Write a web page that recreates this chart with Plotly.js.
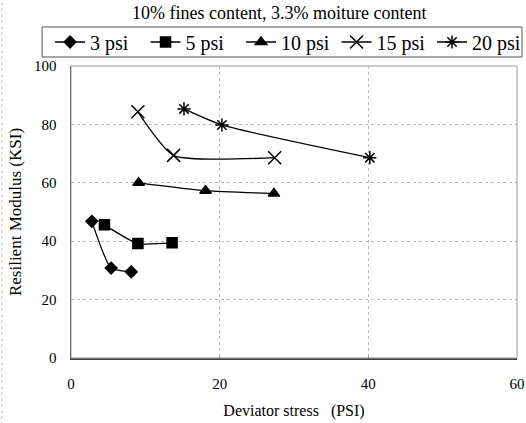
<!DOCTYPE html>
<html><head><meta charset="utf-8">
<script src="https://cdn.plot.ly/plotly-3.0.1.min.js"></script>
<style>body{margin:0;padding:0;background:#fff}#chart{width:526px;height:423px}</style>
</head><body><div id="chart"></div>
<script>
const seriesNames = ['3 psi', '5 psi', '10 psi', '15 psi', '20 psi'];
const x3 = [2.8, 5.4, 8.1];
const y3 = [46.8, 30.8, 29.5];
const x5 = [4.5, 9.0, 13.6];
const y5 = [45.6, 39.2, 39.5];
const x10 = [9.1, 18.1, 27.3];
const y10 = [60.0, 57.3, 56.3];
const x15 = [9.0, 13.8, 27.4];
const y15 = [84.3, 69.4, 68.6];
const x20 = [15.2, 20.3, 40.2];
const y20 = [85.3, 79.8, 68.6];
const xTicks = [0, 20, 40, 60];
const yTicks = [0, 20, 40, 60, 80, 100];

const xs = [x3, x5, x10, x15, x20];
const ys = [y3, y5, y10, y15, y20];
const symbols = ['diamond', 'square', 'triangle-up', 'x-thin-open', 'asterisk-open'];
const sizes = [9, 10, 10, 13, 11];

const traces = seriesNames.map((n, i) => ({
  x: xs[i], y: ys[i], name: n, type: 'scatter', mode: 'lines+markers',
  line: {color: '#000', width: 1.3, shape: 'spline', smoothing: 0.55},
  marker: {symbol: symbols[i], size: sizes[i], color: '#000', line: {color: '#000', width: 1.5}}
}));

const font = {family: 'Times New Roman, Liberation Serif, DejaVu Serif, serif', color: '#000'};
const layout = {
  width: 526, height: 423,
  margin: {l: 71, r: 9, t: 66, b: 65, autoexpand: false},
  paper_bgcolor: '#fff', plot_bgcolor: '#fff',
  font: Object.assign({size: 15}, font),
  title: {text: '10% fines content, 3.3% moiture content', x: 0.531, xanchor: 'center', y: 0.969, yanchor: 'middle',
          font: Object.assign({size: 18}, font)},
  showlegend: true,
  legend: {orientation: 'h', x: -0.047, xanchor: 'left', y: 1.0822, yanchor: 'middle',
           borderwidth: 0, bgcolor: 'rgba(0,0,0,0)',
           font: Object.assign({size: 20}, font), itemwidth: 30, tracegroupgap: 0,
           entrywidth: 50.5, entrywidthmode: 'pixels'},
  xaxis: {range: [0, 60], tickvals: xTicks, ticktext: xTicks.map(String), showgrid: true,
          gridcolor: '#bbb', griddash: 'dot', gridwidth: 1, zeroline: false,
          showline: true, linecolor: '#444', linewidth: 1.5, ticks: 'inside', ticklen: 3, tickcolor: '#999',
          ticklabelstandoff: 11,
          title: {text: 'Deviator stress \u00a0 (PSI)', font: Object.assign({size: 16}, font), standoff: 14}},
  yaxis: {range: [0, 100], tickvals: yTicks, ticktext: yTicks.map(String), showgrid: true,
          gridcolor: '#bbb', griddash: 'dot', gridwidth: 1, zeroline: false,
          showline: true, linecolor: '#444', linewidth: 1.5, ticks: '', ticklabelstandoff: 10,
          title: {text: 'Resilient Modulus (KSI)', font: Object.assign({size: 17}, font), standoff: 8}},
  shapes: [
    {type: 'rect', xref: 'paper', yref: 'paper', x0: 0, x1: 1, y0: 0, y1: 1, line: {color: '#999', width: 1}},
    {type: 'rect', xref: 'paper', yref: 'paper', x0: -0.0649, x1: 1.0112, y0: 1.0308, y1: 1.1336, line: {color: '#555', width: 1}},
    {type: 'line', xref: 'paper', yref: 'paper', x0: -0.155, x1: -0.155, y0: -0.23, y1: 1.23, line: {color: '#bbb', width: 1, dash: 'dot'}}
  ]
};
Plotly.newPlot('chart', traces, layout, {displayModeBar: false, staticPlot: true});
</script></body></html>
